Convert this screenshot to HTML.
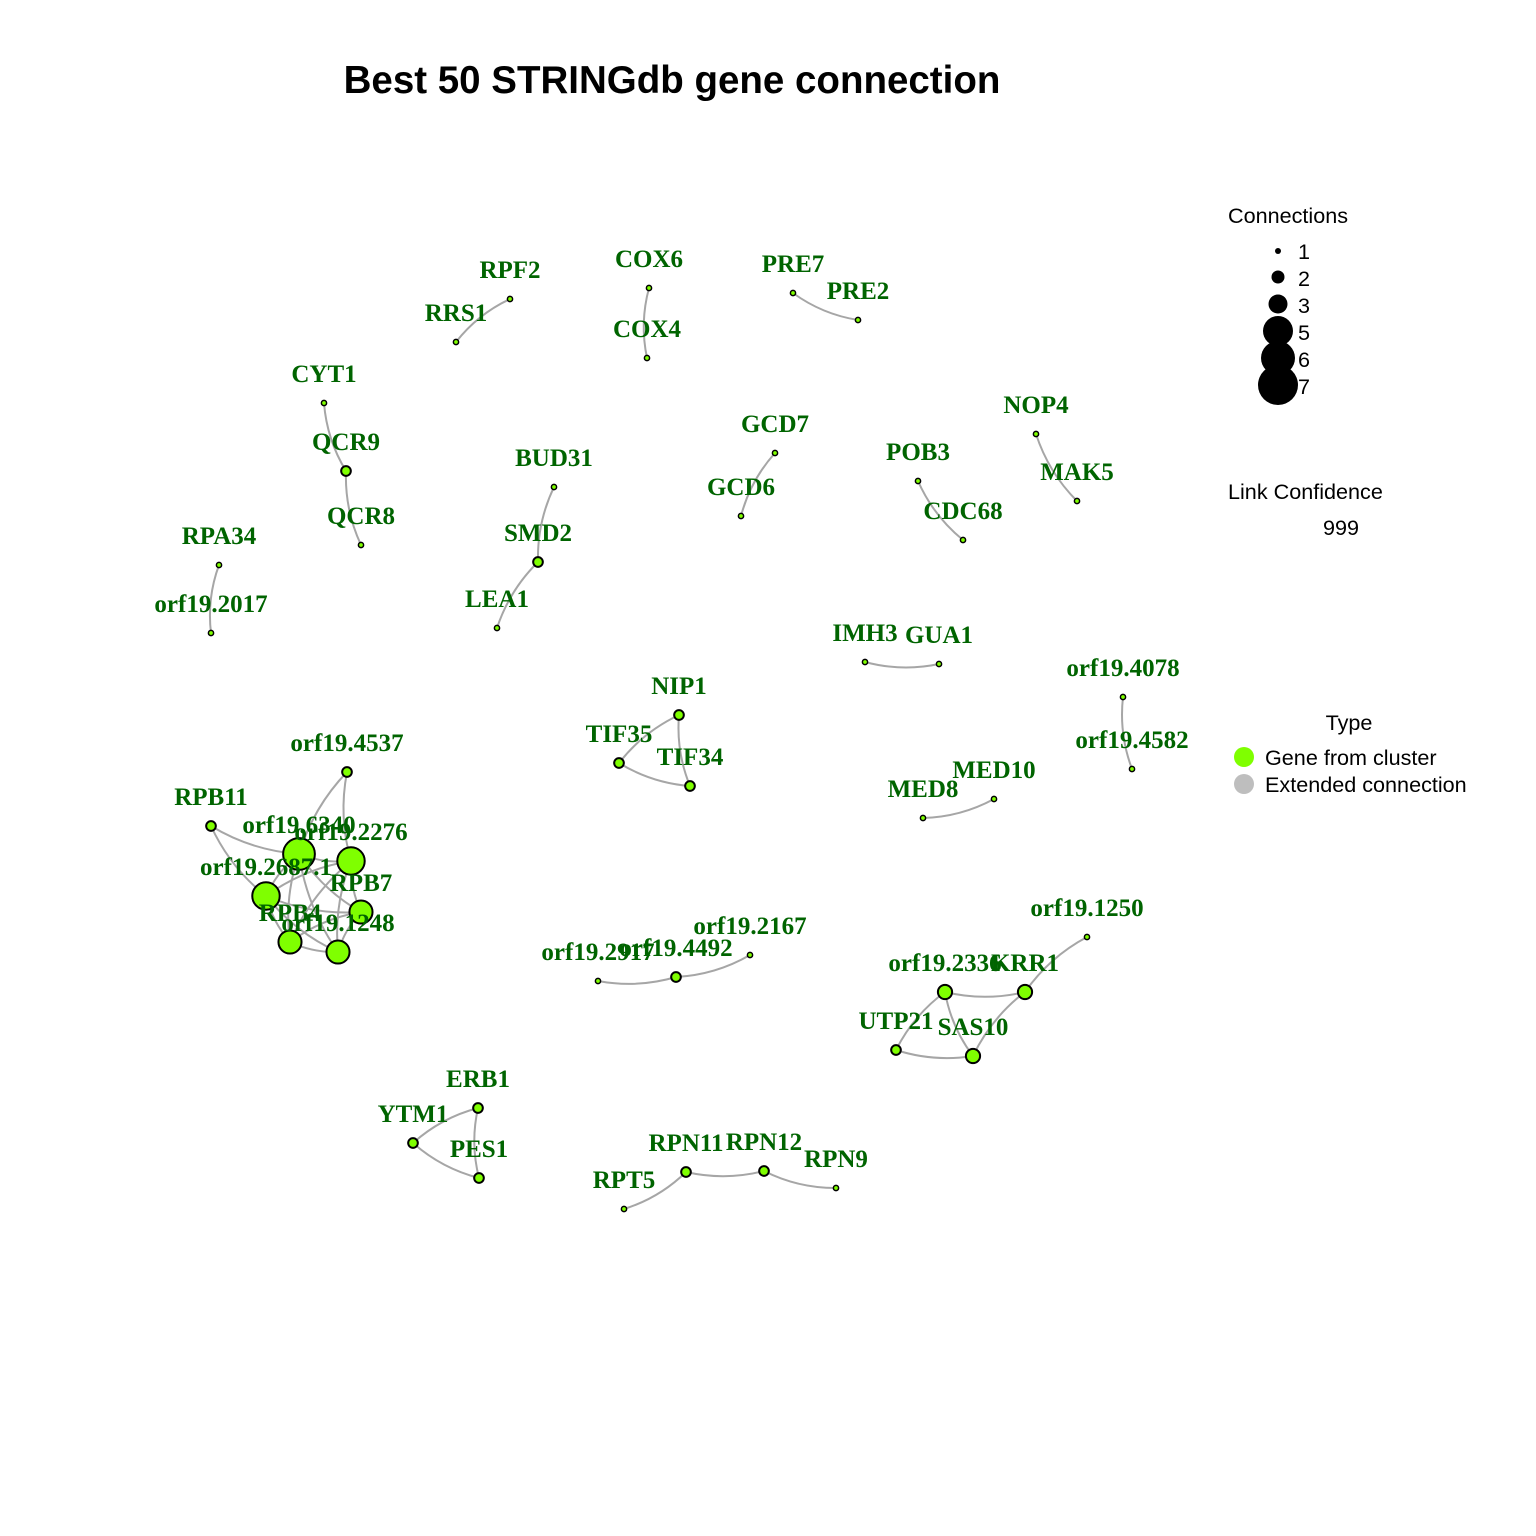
<!DOCTYPE html>
<html><head><meta charset="utf-8"><style>
body{margin:0;background:#fff}
svg{display:block}
.lbl{font-family:"Liberation Serif",serif;font-weight:bold;font-size:25px;fill:#006400;text-anchor:middle}
.lg{font-family:"Liberation Sans",sans-serif;font-size:21.6px;fill:#000}
</style></head><body>
<svg id="chart" width="1536" height="1536" viewBox="0 0 1536 1536">
<rect width="1536" height="1536" fill="#fff"/>
<text x="672" y="93" text-anchor="middle" style="font-family:'Liberation Sans',sans-serif;font-weight:bold;font-size:38.5px">Best 50 STRINGdb gene connection</text>
<g id="edges"></g>
<g id="nodes"></g>
<g id="labels"></g>
<g>
<text class="lg" x="1228" y="223">Connections</text>
<circle cx="1278" cy="385" r="20"/>
<circle cx="1278" cy="358" r="17"/>
<circle cx="1278" cy="331" r="15"/>
<circle cx="1278" cy="304" r="9.5"/>
<circle cx="1278" cy="277" r="6.5"/>
<circle cx="1278" cy="251" r="3"/>
<text class="lg" x="1298" y="259">1</text><text class="lg" x="1298" y="286">2</text><text class="lg" x="1298" y="313">3</text>
<text class="lg" x="1298" y="340">5</text><text class="lg" x="1298" y="367">6</text><text class="lg" x="1298" y="394">7</text>
</g>
<g>
<text class="lg" x="1228" y="499">Link Confidence</text>
<text class="lg" x="1323" y="535">999</text>
</g>
<g>
<text class="lg" x="1349" y="730" text-anchor="middle">Type</text>
<circle cx="1244" cy="757" r="10" fill="#7FFF00"/>
<circle cx="1244" cy="784" r="10" fill="#BEBEBE"/>
<text class="lg" x="1265" y="765">Gene from cluster</text>
<text class="lg" x="1265" y="792">Extended connection</text>
</g>
</svg>
<script>
const nodeNames=["RPF2","RRS1","COX6","COX4","PRE7","PRE2","CYT1","QCR9","QCR8","BUD31","SMD2","LEA1","GCD7","GCD6","POB3","CDC68","NOP4","MAK5","RPA34","orf19.2017","IMH3","GUA1","orf19.4078","orf19.4582","NIP1","TIF35","TIF34","MED8","MED10","orf19.2917","orf19.4492","orf19.2167","orf19.1250","KRR1","orf19.2336","UTP21","SAS10","ERB1","YTM1","PES1","RPT5","RPN11","RPN12","RPN9","orf19.6340","orf19.2276","orf19.2687.1","RPB7","RPB4","orf19.1248","orf19.4537","RPB11"];
const nodeX=[510,456,649,647,793,858,324,346,361,554,538,497,775,741,918,963,1036,1077,219,211,865,939,1123,1132,679,619,690,923,994,598,676,750,1087,1025,945,896,973,478,413,479,624,686,764,836,299,351,266,361,290,338,347,211];
const nodeY=[299,342,288,358,293,320,403,471,545,487,562,628,453,516,481,540,434,501,565,633,662,664,697,769,715,763,786,818,799,981,977,955,937,992,992,1050,1056,1108,1143,1178,1209,1172,1171,1188,854,861,896,912,942,952,772,826];
const edgeFrom=["RPF2","COX6","PRE7","CYT1","QCR9","BUD31","SMD2","GCD7","POB3","NOP4","RPA34","IMH3","orf19.4078","NIP1","NIP1","TIF35","MED8","orf19.2917","orf19.4492","orf19.1250","orf19.2336","orf19.2336","orf19.2336","UTP21","KRR1","ERB1","YTM1","ERB1","RPT5","RPN11","RPN12","RPB11","RPB11","orf19.4537","orf19.4537","orf19.6340","orf19.6340","orf19.6340","orf19.6340","orf19.6340","orf19.2276","orf19.2276","orf19.2276","orf19.2276","orf19.2687.1","orf19.2687.1","orf19.2687.1","RPB7","RPB7","RPB4"];
const edgeTo=["RRS1","COX4","PRE2","QCR9","QCR8","SMD2","LEA1","GCD6","CDC68","MAK5","orf19.2017","GUA1","orf19.4582","TIF35","TIF34","TIF34","MED10","orf19.4492","orf19.2167","KRR1","KRR1","UTP21","SAS10","SAS10","SAS10","YTM1","PES1","PES1","RPN11","RPN12","RPN9","orf19.6340","orf19.2687.1","orf19.6340","orf19.2276","orf19.2276","orf19.2687.1","RPB7","RPB4","orf19.1248","orf19.2687.1","RPB7","RPB4","orf19.1248","RPB7","RPB4","orf19.1248","RPB4","orf19.1248","orf19.1248"];
const NS="http://www.w3.org/2000/svg";
const idx=n=>nodeNames.indexOf(n);
const deg=nodeNames.map(()=>0);
edgeFrom.forEach((f,i)=>{deg[idx(f)]++;deg[idx(edgeTo[i])]++;});
const rad=d=>d<=1?2.6:2.5*Math.pow(Math.min(d,7),0.95);
const eg=document.getElementById('edges'),ng=document.getElementById('nodes'),lg=document.getElementById('labels');
edgeFrom.forEach((f,i)=>{
 const a=idx(f),b=idx(edgeTo[i]);
 const x1=nodeX[a],y1=nodeY[a],x2=nodeX[b],y2=nodeY[b];
 const mx=(x1+x2)/2,my=(y1+y2)/2,dx=x2-x1,dy=y2-y1,L=Math.hypot(dx,dy)||1;
 const k=0.12*L;
 const cx=mx-dy/L*k,cy=my+dx/L*k;
 const p=document.createElementNS(NS,'path');
 p.setAttribute('d',`M${x1},${y1} Q${cx},${cy} ${x2},${y2}`);
 p.setAttribute('fill','none');p.setAttribute('stroke','#A6A6A6');p.setAttribute('stroke-width','2');
 
 
 eg.appendChild(p);
});
nodeNames.forEach((n,i)=>{
 const c=document.createElementNS(NS,'circle');
 c.setAttribute('cx',nodeX[i]);c.setAttribute('cy',nodeY[i]);c.setAttribute('r',rad(deg[i]));
 c.setAttribute('fill','#7FFF00');c.setAttribute('stroke','#000');c.setAttribute('stroke-width',deg[i]>1?'2':'1.5');
 
 
 ng.appendChild(c);
 const t=document.createElementNS(NS,'text');
 t.setAttribute('class','lbl');t.setAttribute('x',nodeX[i]);t.setAttribute('y',nodeY[i]-21);
 t.textContent=n;
 
 
 lg.appendChild(t);
});
</script>
</body></html>
